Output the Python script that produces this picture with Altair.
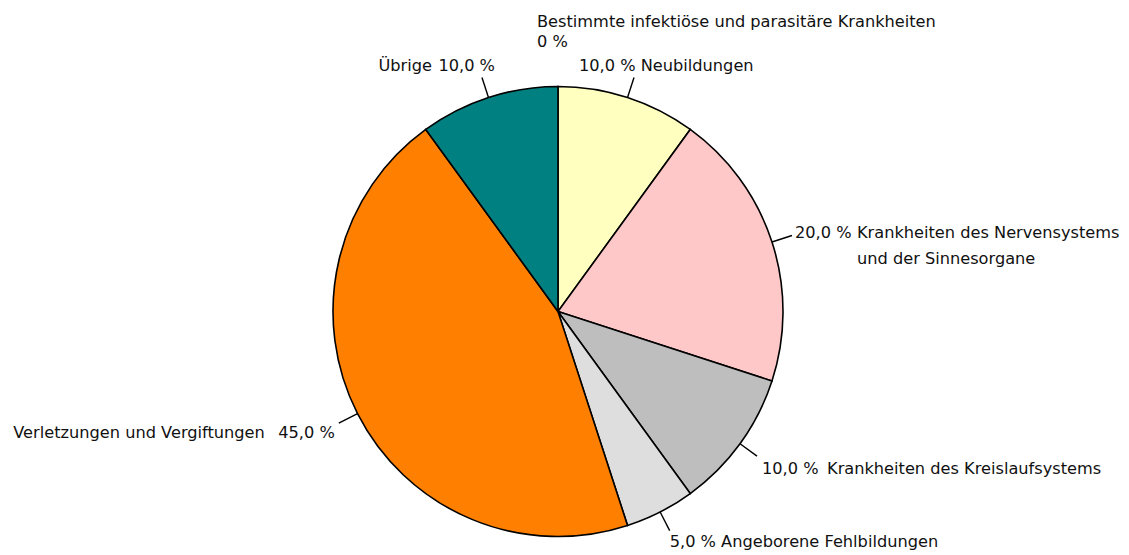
import math
import altair as alt
import pandas as pd

# ---- data ----
categories = [
    "Bestimmte infektiöse und parasitäre Krankheiten",
    "Neubildungen",
    "Krankheiten des Nervensystems und der Sinnesorgane",
    "Krankheiten des Kreislaufsystems",
    "Angeborene Fehlbildungen",
    "Verletzungen und Vergiftungen",
    "Übrige",
]
values = [0.0, 10.0, 20.0, 10.0, 5.0, 45.0, 10.0]
colors = ["#FFFFC0", "#FFFFC0", "#FFC8C8", "#BEBEBE", "#DEDEDE", "#FF8000", "#008080"]


def pct(v):
    return "0 %" if v == 0 else f"{v:.1f}".replace(".", ",") + " %"


# ---- layout (style / offsets, not data) ----
W, H = 1113, 547
CX, CY = 550, 303.5
R = 225
R_LEAD = 246
FONT = "DejaVu Sans"
FSIZE = 16.2

# label pieces: (slice index, kind, offset x, offset y from leader end, align)
label_layout = [
    (0, "name", -21, -43.5, "left"),
    (0, "pct", -21, -23.5, "left"),
    (1, "pct+name", -55, -11.5, "left"),
    (2, "pct", 3, -2.5, "left"),
    (2, "name1", 65, -2.5, "left"),
    (2, "name2", 65, 23.5, "left"),
    (3, "pct", 5, 13, "left"),
    (3, "name", 70, 13, "left"),
    (4, "pct+name", 0, 11.3, "left"),
    (5, "name", -74, 10, "right"),
    (5, "pct", -4, 10, "right"),
    (6, "name", -50, -11.5, "right"),
    (6, "pct", 13, -11.5, "right"),
]
name_lines = {2: ["Krankheiten des Nervensystems", "und der Sinnesorgane"]}

# ---- derived tables ----
total = sum(values)
slices = []
cum = 0.0
for i, (c, v) in enumerate(zip(categories, values)):
    mid = (cum + v / 2) / total * 2 * math.pi
    cum += v
    slices.append(dict(order=i, cat=c, value=v, mid=mid))
df = pd.DataFrame(slices)

lead = df[df["value"] > 0].copy()
lead["x1"] = CX + R * lead["mid"].apply(math.sin)
lead["y1"] = CY - R * lead["mid"].apply(math.cos)
lead["x2"] = CX + R_LEAD * lead["mid"].apply(math.sin)
lead["y2"] = CY - R_LEAD * lead["mid"].apply(math.cos)

rows = []
for idx, kind, ox, oy, al in label_layout:
    s = slices[idx]
    ax = CX + R_LEAD * math.sin(s["mid"])
    ay = CY - R_LEAD * math.cos(s["mid"])
    if kind == "name":
        t = s["cat"]
    elif kind == "pct":
        t = pct(s["value"])
    elif kind == "pct+name":
        t = pct(s["value"]) + " " + s["cat"]
    elif kind == "name1":
        t = name_lines[idx][0]
    else:
        t = name_lines[idx][1]
    rows.append(dict(text=t, x=ax + ox, y=ay + oy, align=al))
labels = pd.DataFrame(rows)

pie = alt.Chart(df).mark_arc(outerRadius=R, stroke="#000000", strokeWidth=1.6).encode(
    theta=alt.Theta("value:Q", stack=True),
    order=alt.Order("order:Q"),
    color=alt.Color("cat:N", scale=alt.Scale(domain=categories, range=colors), legend=None),
    x=alt.value(CX),
    y=alt.value(CY),
)

leaders = alt.Chart(lead).mark_rule(color="#000000", strokeWidth=1.4).encode(
    x=alt.X("x1:Q", scale=None, axis=None),
    y=alt.Y("y1:Q", scale=None, axis=None),
    x2="x2:Q",
    y2="y2:Q",
)

def text_layer(al):
    return alt.Chart(labels[labels["align"] == al]).mark_text(
        align=al, baseline="middle", font=FONT, fontSize=FSIZE, color="#111111"
    ).encode(
        x=alt.X("x:Q", scale=None, axis=None),
        y=alt.Y("y:Q", scale=None, axis=None),
        text="text:N",
    )

chart = alt.layer(pie, leaders, text_layer("left"), text_layer("right")).properties(
    width=W, height=H, padding=0, autosize=alt.AutoSizeParams(type="none")
).configure_view(stroke=None)

chart.save("out.html", embed_options={"renderer": "svg", "actions": False})
